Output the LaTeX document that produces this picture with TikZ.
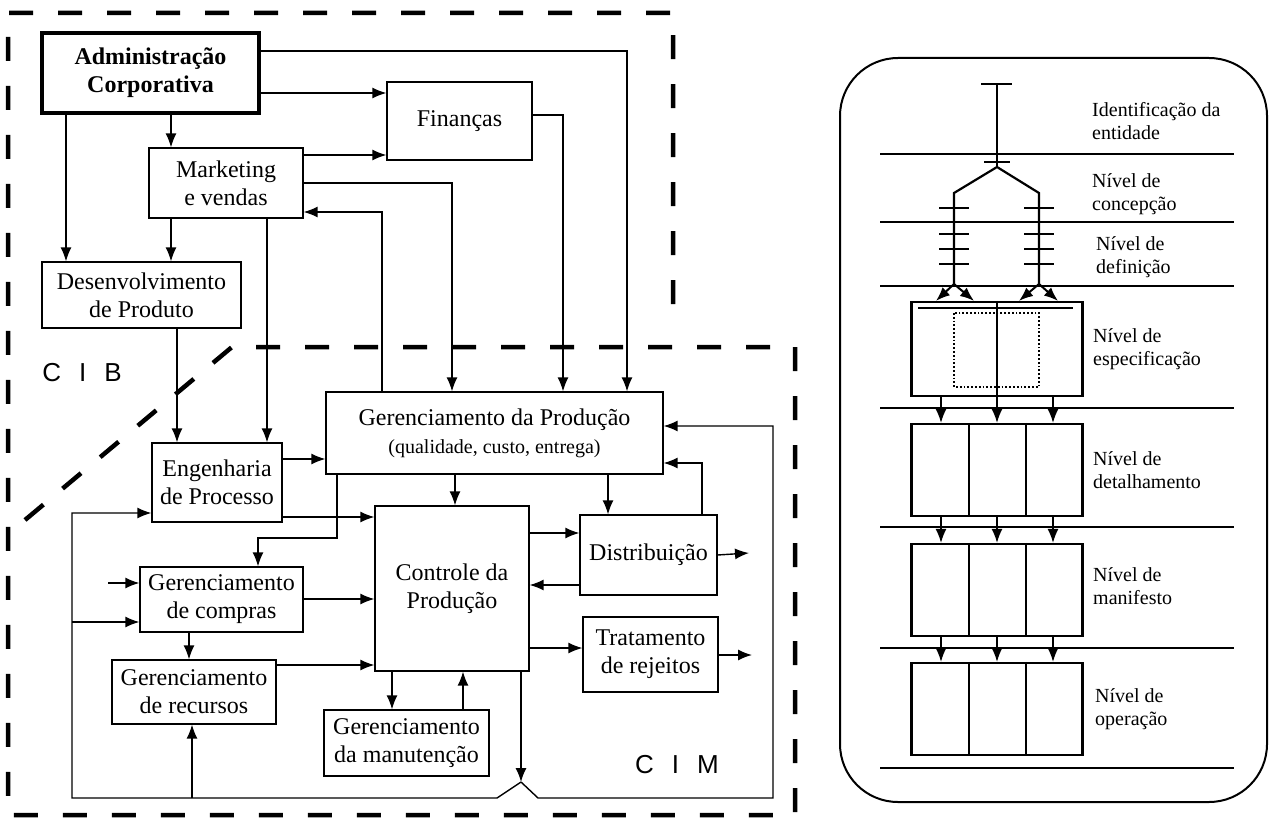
\documentclass[tikz,border=0pt]{standalone}
\usepackage{fontspec}
\setmainfont{Liberation Serif}
\setsansfont{Liberation Sans}
\usetikzlibrary{arrows.meta}

\begin{document}
\begin{tikzpicture}[x=1pt, y=-1pt,
    block/.style={rectangle, draw, fill=white, line width=1.2pt, inner sep=0pt, align=center, font=\fontsize{24}{28}\selectfont},
    corpblock/.style={block, line width=3.5pt, font=\bfseries\fontsize{24}{28}\selectfont},
    level/.style={rectangle, draw, line width=2.2pt, minimum width=171pt, minimum height=92pt, inner sep=0pt},
    levellabel/.style={anchor=west, align=left, inner sep=0pt, font=\fontsize{20}{23}\selectfont},
    line/.style={draw, -{Latex[length=14pt,width=11pt]}, line width=1.4pt},
    tree/.style={draw, line width=2.2pt},
    boundary/.style={draw, line width=4.5pt, dash pattern=on 24pt off 25pt},
    region/.style={font=\sffamily\fontsize{26}{30}\selectfont}]
    \useasboundingbox (0,0) rectangle (1273,824);

    % limites CIB / CIM
    \draw[boundary] (25,520) -- (232,347) -- (795,347) -- (795,815) -- (8,815) -- (8,13) -- (673,13) -- (673,328);

    \node [corpblock, minimum width=217pt, minimum height=80pt] (adm) at (150.5,73) {Administração\\Corporativa};
    \node [block, minimum width=145pt, minimum height=78pt] (fin) at (459.5,121) {Finanças};
    \node [block, minimum width=154pt, minimum height=70pt] (mkt) at (226,183) {Marketing\\e vendas};
    \node [block, minimum width=199pt, minimum height=66pt] (dev) at (141.5,295) {Desenvolvimento\\de Produto};
    \node [block, minimum width=130pt, minimum height=79pt] (eng) at (217,482.5) {Engenharia\\de Processo};
    \node [block, minimum width=337pt, minimum height=82pt] (gp) at (494.5,433) {Gerenciamento da Produção\\{\fontsize{20}{24}\selectfont (qualidade, custo, entrega)}};
    \node [block, minimum width=154pt, minimum height=165pt] (ctl) at (452,588.5) {Controle da\\Produção};
    \node [block, minimum width=137pt, minimum height=80pt] (dist) at (648.5,555) {Distribuição};
    \node [block, minimum width=135pt, minimum height=75pt] (trat) at (650.5,654.5) {Tratamento\\de rejeitos};
    \node [block, minimum width=163pt, minimum height=65pt] (comp) at (221.5,599.5) {Gerenciamento\\de compras};
    \node [block, minimum width=164pt, minimum height=64pt] (rec) at (194,692) {Gerenciamento\\de recursos};
    \node [block, minimum width=165pt, minimum height=66pt] (man) at (406.5,743) {Gerenciamento\\da manutenção};

    \node [region] (cib) at (82,373) {C\hspace{18pt}I\hspace{18pt}B};
    \node [region] (cim) at (677,765) {C\hspace{18pt}I\hspace{18pt}M};

    \coordinate (distout) at (749,553);
    \coordinate (tratout) at (752,655);
    \coordinate (compin) at (108,583);
    \coordinate (hop) at (521,782);

    \path [line] (adm.east |- 0,51) -| (gp.north -| 627,0);
    \path [line] (adm.east |- 0,93) -- (fin.west |- 0,93);
    \path [line] (adm.south -| 171,0) -- (mkt.north -| 171,0);
    \path [line] (adm.south -| 66,0) -- (dev.north -| 66,0);
    \path [line] (mkt.east |- 0,155) -- (fin.west |- 0,155);
    \path [line] (mkt.east |- 0,183) -| (gp.north -| 452,0);
    \path [line] (gp.north -| 382,0) |- (mkt.east |- 0,212);
    \path [line] (mkt.south -| 171,0) -- (dev.north -| 171,0);
    \path [line] (mkt.south -| 267,0) -- (eng.north -| 267,0);
    \path [line] (fin.east |- 0,115) -| (gp.north -| 563,0);
    \path [line] (dev.south -| 177,0) -- (eng.north -| 177,0);
    \path [line] (eng.east |- 0,459) -- (gp.west |- 0,459);
    \path [line] (eng.east |- 0,517) -- (ctl.west |- 0,517);
    \path [line] (gp.south -| 337,0) -- (337,538) -| (comp.north -| 258,0);
    \path [line] (gp.south -| 455,0) -- (ctl.north -| 455,0);
    \path [line] (gp.south -| 608,0) -- (dist.north -| 608,0);
    \path [line] (dist.north -| 702,0) |- (gp.east |- 0,463);
    \path [line] (ctl.east |- 0,533) -- (dist.west |- 0,533);
    \path [line] (dist.west |- 0,585) -- (ctl.east |- 0,585);
    \path [line] (dist.east) -- (distout);
    \path [line] (ctl.east |- 0,648) -- (trat.west |- 0,648);
    \path [line] (trat.east |- 0,655) -- (tratout);
    \path [line] (comp.east |- 0,599) -- (ctl.west |- 0,599);
    \path [line] (compin) -- (comp.west |- 0,583);
    \path [line] (comp.south -| 189,0) -- (rec.north -| 189,0);
    \path [line] (rec.east |- 0,665) -- (ctl.west |- 0,665);
    \path [line] (ctl.south -| 392,0) -- (man.north -| 392,0);
    \path [line] (man.north -| 463,0) -- (ctl.south -| 463,0);
    \path [line] (ctl.south -| 521,0) -- (hop);
    % realimentacao
    \path [line] (hop) -- (538,798) -| (773,426) -- (gp.east |- 0,426);
    \path [line] (hop) -- (497,798) -| (72,513) -- (eng.west |- 0,513);
    \path [line] (72,622) -- (comp.west |- 0,622);
    \path [line] (192,798) -- (rec.south -| 192,0);

    % niveis
    \draw [line width=2pt, rounded corners=58pt] (840,58) rectangle (1267,802);
    \foreach \y in {154,222,286,408,527,648,768}
        \draw [line width=1.5pt] (880,\y) -- (1234,\y);

    \draw [tree] (981,84) -- (1012,84);
    \draw [tree] (997,84) -- (997,167);
    \draw [tree] (984,162) -- (1010,162);
    \draw [tree] (954,284) -- (954,193) -- (997,167) -- (1039,193) -- (1039,284);
    \foreach \y in {208,234,249,264} {
        \draw [tree] (939,\y) -- (969,\y);
        \draw [tree] (1024,\y) -- (1054,\y);
    }
    \coordinate (forkl) at (954,284);
    \coordinate (forkr) at (1039,284);

    \node [level, minimum height=94pt] (spec) at (997,349) {};
    \node [level] (det) at (997,470) {};
    \node [level] (mnf) at (997,590) {};
    \node [level] (opr) at (997,709) {};

    \path [line, line width=2pt] (forkl) -- (spec.north -| 936,0);
    \path [line, line width=2pt] (forkl) -- (spec.north -| 974,0);
    \path [line, line width=2pt] (forkr) -- (spec.north -| 1019,0);
    \path [line, line width=2pt] (forkr) -- (spec.north -| 1058,0);

    \draw [line width=1.5pt] (918,308) -- (1073,308);
    \draw [dotted, line width=1.8pt] (954,313) rectangle (1039,387);
    \draw [line width=1.5pt] (spec.north) -- (spec.south);
    \foreach \a/\b in {spec/det, det/mnf, mnf/opr}
        \foreach \x in {941,997,1053}
            \path [line, line width=1.5pt] (\a.south -| \x,0) -- (\b.north -| \x,0);
    \foreach \n in {det, mnf, opr}
        \foreach \x in {969,1026}
            \draw [line width=2pt] (\n.north -| \x,0) -- (\n.south -| \x,0);

    \node [levellabel] (lident) at (1092,121) {Identificação da\\entidade};
    \node [levellabel] (lconc) at (1092,194) {Nível de\\concepção};
    \node [levellabel] (ldef) at (1096,257) {Nível de\\definição};
    \node [levellabel] (lspec) at (1093,349) {Nível de\\especificação};
    \node [levellabel] (ldet) at (1093,470) {Nível de\\detalhamento};
    \node [levellabel] (lmnf) at (1093,586) {Nível de\\manifesto};
    \node [levellabel] (lopr) at (1095,709) {Nível de\\operação};
\end{tikzpicture}
\end{document}
